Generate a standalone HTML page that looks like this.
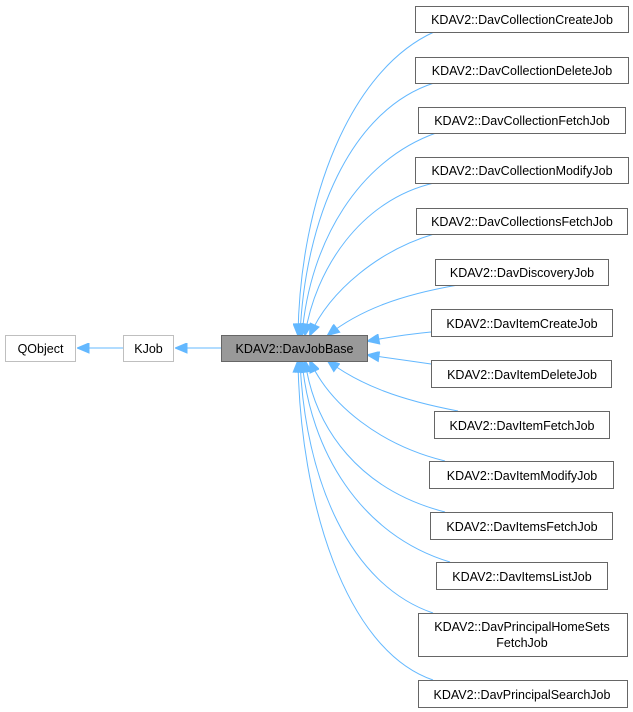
<html><head><style>body{margin:0;background:#fff}svg text{font-family:"Liberation Sans",sans-serif;font-size:12.5px;fill:#000;stroke:none}</style></head><body>
<svg width="633" height="712" viewBox="0 0 633 712">
<defs><marker id="a" markerWidth="14" markerHeight="12" refX="1" refY="5" orient="auto" markerUnits="userSpaceOnUse"><path d="M12,0 L0,5 L12,10 z" fill="#63b8ff" stroke="#63b8ff"/></marker></defs>
<g fill="none" stroke="#63b8ff" stroke-width="1">
<path d="M78,348 H123" marker-start="url(#a)"/>
<path d="M176,348 H221" marker-start="url(#a)"/>
<path d="M298,335 C300,200 350,70 434,32" marker-start="url(#a)"/>
<path d="M300,335 C305,220 350,110 434,83" marker-start="url(#a)"/>
<path d="M302,335 C310,240 360,160 436,133" marker-start="url(#a)"/>
<path d="M305,335 C315,270 360,200 434,183" marker-start="url(#a)"/>
<path d="M310,335 C330,290 380,250 434,234" marker-start="url(#a)"/>
<path d="M328,335 C360,310 400,295 458,285" marker-start="url(#a)"/>
<path d="M368,341 C390,337 410,334 431,332" marker-start="url(#a)"/>
<path d="M368,355 C390,358 410,361 431,364" marker-start="url(#a)"/>
<path d="M328,361 C360,385 400,400 458,411" marker-start="url(#a)"/>
<path d="M310,361 C330,405 380,445 445,461" marker-start="url(#a)"/>
<path d="M305,361 C315,430 360,490 445,512" marker-start="url(#a)"/>
<path d="M302,361 C310,450 360,535 450,562" marker-start="url(#a)"/>
<path d="M300,361 C305,480 350,585 433,613" marker-start="url(#a)"/>
<path d="M298,361 C300,500 345,650 433,680" marker-start="url(#a)"/>
</g>
<g stroke-width="1" fill="#fff">
<rect x="5.5" y="335.5" width="70" height="26" stroke="#bfbfbf"/>
<rect x="123.5" y="335.5" width="50" height="26" stroke="#bfbfbf"/>
<rect x="221.5" y="335.5" width="146" height="26" stroke="#666" fill="#999"/>
<g stroke="#666">
<rect x="415.5" y="6.5" width="213" height="26"/><rect x="415.5" y="57.5" width="213" height="26"/><rect x="418.5" y="107.5" width="207" height="26"/><rect x="415.5" y="157.5" width="213" height="26"/><rect x="416.5" y="208.5" width="211" height="26"/><rect x="435.5" y="259.5" width="173" height="26"/><rect x="431.5" y="309.5" width="181" height="27"/><rect x="431.5" y="360.5" width="180" height="27"/><rect x="434.5" y="411.5" width="175" height="27"/><rect x="429.5" y="461.5" width="184" height="27"/><rect x="430.5" y="512.5" width="182" height="27"/><rect x="436.5" y="562.5" width="171" height="27"/><rect x="418.5" y="613.5" width="209" height="43"/><rect x="418.5" y="680.5" width="209" height="27"/>
</g></g>
<g text-anchor="middle">
<text x="40.5" y="353">QObject</text>
<text x="148.5" y="353">KJob</text>
<text x="294.5" y="353">KDAV2::DavJobBase</text>
<text x="522" y="24">KDAV2::DavCollectionCreateJob</text>
<text x="522" y="75">KDAV2::DavCollectionDeleteJob</text>
<text x="522" y="125">KDAV2::DavCollectionFetchJob</text>
<text x="522" y="175">KDAV2::DavCollectionModifyJob</text>
<text x="522" y="226">KDAV2::DavCollectionsFetchJob</text>
<text x="522" y="277">KDAV2::DavDiscoveryJob</text>
<text x="522" y="328">KDAV2::DavItemCreateJob</text>
<text x="522" y="379">KDAV2::DavItemDeleteJob</text>
<text x="522" y="430">KDAV2::DavItemFetchJob</text>
<text x="522" y="480">KDAV2::DavItemModifyJob</text>
<text x="522" y="531">KDAV2::DavItemsFetchJob</text>
<text x="522" y="581">KDAV2::DavItemsListJob</text>
<text x="522" y="631">KDAV2::DavPrincipalHomeSets</text>
<text x="522" y="647">FetchJob</text>
<text x="522" y="699">KDAV2::DavPrincipalSearchJob</text>
</g>
</svg></body></html>
